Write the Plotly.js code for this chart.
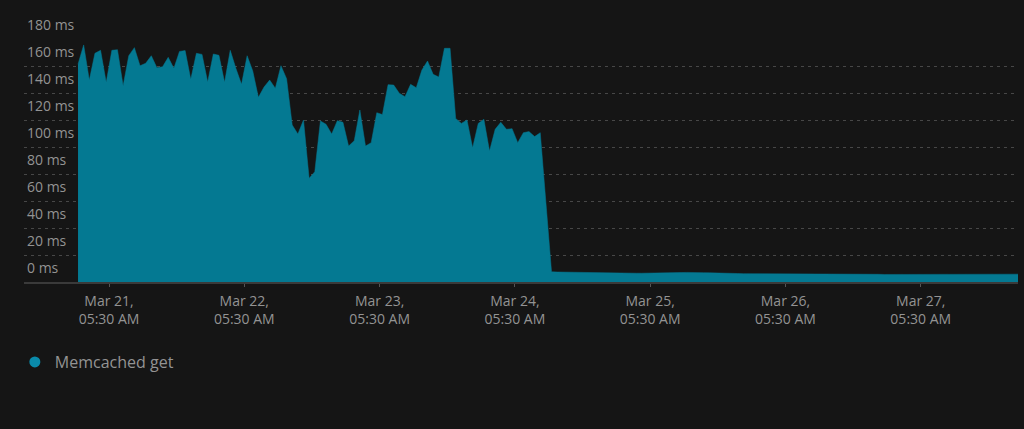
<!DOCTYPE html>
<html>
<head>
<meta charset="utf-8">
<script src="https://cdn.plot.ly/plotly-3.0.1.min.js"></script>
<style>
  html, body { margin: 0; padding: 0; background: #151515; }
  #chart { width: 1024px; height: 429px; }
</style>
</head>
<body>
<div id="chart"></div>
<script>
// ---- data (hourly samples) ----
var seriesName = 'Memcached get';
var startTime = '2024-03-21T00:00:00';   // first sample
var memcachedGetMs = [
  161.3, 175.6, 149.6, 169.4, 171.6, 147.9, 171.6, 172.1, 145.4, 167.6,
  173.6, 160.2, 162.0, 167.6, 158.7, 159.5, 166.4, 158.3, 170.8, 171.4,
  150.1, 169.4, 168.6, 148.1, 168.9, 167.9, 147.9, 171.6, 158.3, 146.4,
  167.6, 156.3, 136.8, 144.4, 149.6, 143.5, 160.2, 150.6, 116.3, 109.6,
  120.0, 76.8, 81.7, 119.3, 116.8, 109.6, 119.5, 118.3, 100.7, 104.7,
  127.4, 100.7, 103.2, 125.4, 124.0, 146.2, 145.9, 139.8, 137.3, 146.4,
  143.9, 157.0, 163.7, 153.8, 151.9, 173.1, 173.1, 121.2, 117.5, 120.0,
  99.5, 117.5, 120.5, 97.0, 113.1, 118.3, 113.1, 113.6, 103.2, 110.6,
  111.4, 107.7, 110.6, 60.0, 7.6,
  7.4, 7.3, 7.2, 7.1, 7.0,
  6.9, 6.9, 6.8, 6.8, 6.7, 6.7, 6.6, 6.6, 6.6, 6.5,
  6.5, 6.5, 6.6, 6.6, 6.7, 6.8, 6.9, 7.0, 7.1, 7.2,
  7.1, 6.9, 6.8, 6.6, 6.5, 6.4, 6.3, 6.3, 6.2, 6.2,
  6.1, 6.1, 6.0, 6.0, 5.9, 5.9, 5.9, 5.8, 5.8, 5.8,
  5.8, 5.9, 5.9, 6.0, 6.0, 6.0, 5.9, 5.9, 5.8, 5.8,
  5.7, 5.7, 5.7, 5.6, 5.6, 5.6, 5.6, 5.5, 5.5, 5.5,
  5.5, 5.6, 5.6, 5.6, 5.7, 5.7, 5.7, 5.7, 5.8, 5.8,
  5.8, 5.8, 5.8, 5.8, 5.8, 5.8, 5.8, 5.8
];
var yTickValues = [0, 20, 40, 60, 80, 100, 120, 140, 160, 180];
var yTickLabels = ['0 ms', '20 ms', '40 ms', '60 ms', '80 ms', '100 ms',
                   '120 ms', '140 ms', '160 ms', '180 ms'];
var xTickValues = ['2024-03-21 05:30', '2024-03-22 05:30', '2024-03-23 05:30',
                   '2024-03-24 05:30', '2024-03-25 05:30', '2024-03-26 05:30',
                   '2024-03-27 05:30'];
var xTickLabels = ['Mar 21,<br>05:30 AM', 'Mar 22,<br>05:30 AM', 'Mar 23,<br>05:30 AM',
                   'Mar 24,<br>05:30 AM', 'Mar 25,<br>05:30 AM', 'Mar 26,<br>05:30 AM',
                   'Mar 27,<br>05:30 AM'];
var xRange = ['2024-03-20 14:25', '2024-03-27 22:45'];
var yRange = [0, 180];

// hourly timestamps for each sample
function pad(n) { return (n < 10 ? '0' : '') + n; }
var t0 = new Date(startTime);
var times = memcachedGetMs.map(function (_, i) {
  var d = new Date(t0.getTime() + i * 3600 * 1000);
  return d.getFullYear() + '-' + pad(d.getMonth() + 1) + '-' + pad(d.getDate()) +
         ' ' + pad(d.getHours()) + ':' + pad(d.getMinutes());
});

var fillColor = 'rgb(4,121,146)';
var textColor = '#939393';
var font = 'Open Sans, Noto Sans, sans-serif';

var traces = [
  {
    type: 'scatter', mode: 'lines', x: times, y: memcachedGetMs,
    fill: 'tozeroy', fillcolor: fillColor,
    line: { color: fillColor, width: 0.5 },
    name: seriesName, showlegend: false, hoverinfo: 'x+y'
  },
  {
    type: 'scatter', mode: 'markers', x: [null], y: [null],
    marker: { color: 'rgb(10,138,170)', size: 11, symbol: 'circle' },
    name: seriesName, showlegend: true
  }
];

var layout = {
  width: 1024, height: 429,
  paper_bgcolor: '#151515', plot_bgcolor: '#151515',
  margin: { l: 24, r: 6, t: 39, b: 147, pad: 0 },
  font: { family: font, color: textColor, size: 14 },
  showlegend: true,
  legend: {
    orientation: 'h', xref: 'container', yref: 'container',
    x: 0.0145, y: 0.156, xanchor: 'left', yanchor: 'middle',
    font: { size: 16, color: '#939393', family: font },
    bgcolor: 'rgba(0,0,0,0)'
  },
  xaxis: {
    type: 'date', range: xRange,
    tickvals: xTickValues, ticktext: xTickLabels,
    tickfont: { size: 14, color: textColor },
    ticklabelstandoff: 2,
    showgrid: false, zeroline: false,
    showline: true, linecolor: '#3a3a3a', linewidth: 2,
    ticks: 'outside', ticklen: 3, tickcolor: '#555', tickwidth: 1,
    fixedrange: true
  },
  yaxis: {
    range: yRange, tickvals: yTickValues, ticktext: yTickLabels,
    ticklabelposition: 'inside top', ticklabeloverflow: 'allow',
    ticklabelshift: -4,
    tickfont: { size: 14, color: textColor },
    showgrid: true, gridcolor: '#474747', griddash: '3px,4px', gridwidth: 1,
    zeroline: false, showline: false, ticks: '',
    fixedrange: true
  }
};

Plotly.newPlot('chart', traces, layout, { displayModeBar: false, staticPlot: true });
</script>
</body>
</html>
